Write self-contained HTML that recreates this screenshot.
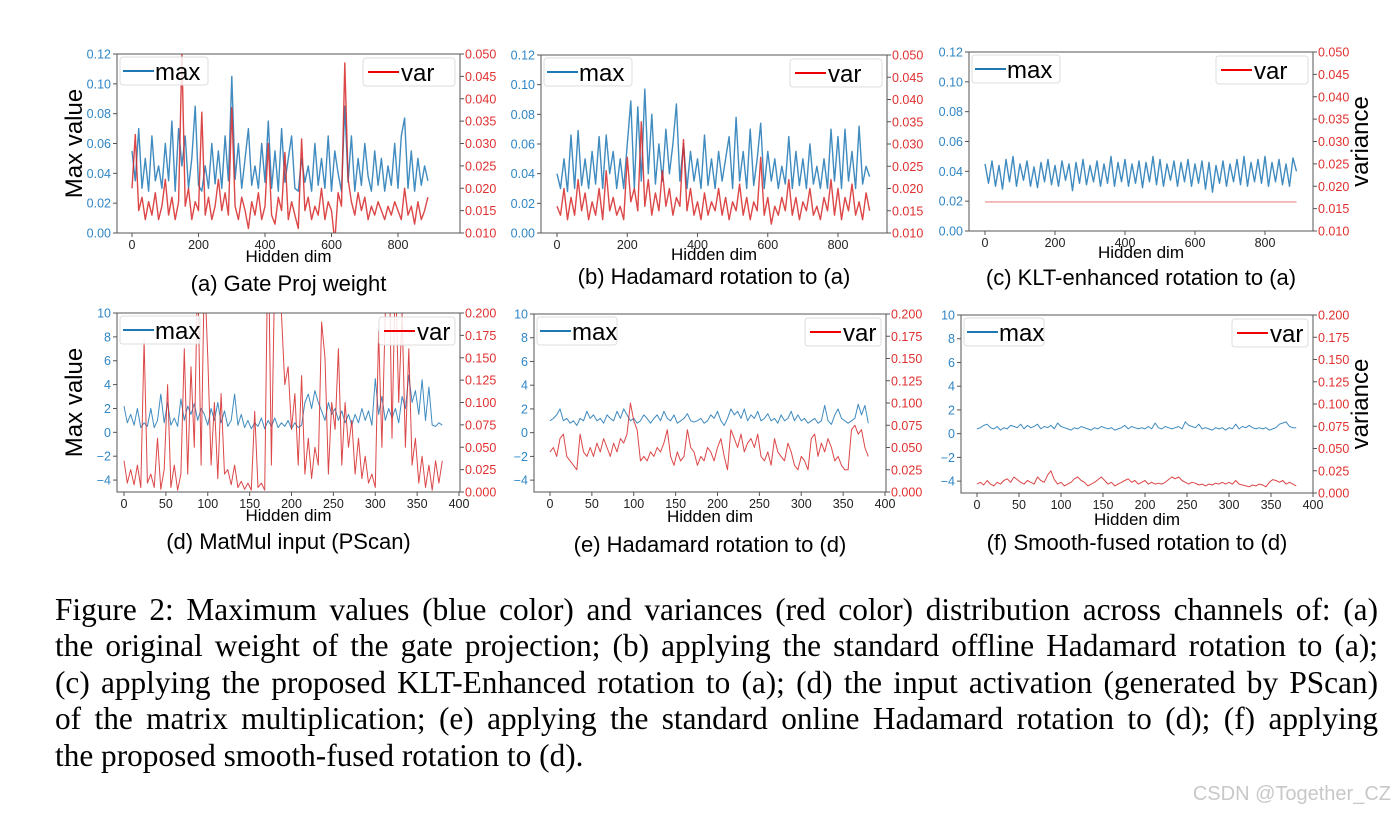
<!DOCTYPE html>
<html><head><meta charset="utf-8">
<style>
body{margin:0;background:#fff;width:1397px;height:818px;overflow:hidden;position:relative;font-family:"Liberation Sans",sans-serif}
svg{position:absolute;left:0;top:0}
.cap{position:absolute;left:55px;width:1323px;font-family:"Liberation Serif",serif;font-size:31.3px;line-height:36px;color:#000;white-space:nowrap}
.j{text-align:justify;text-align-last:justify;white-space:normal}
.wm{position:absolute;right:6px;top:783px;font-size:20px;color:#c8c8c8;font-family:"Liberation Sans",sans-serif}
</style></head><body>
<svg id="fig" width="1397" height="818"></svg>
<div class="cap j" style="top:592px">Figure 2: Maximum values (blue color) and variances (red color) distribution across channels of: (a)</div>
<div class="cap j" style="top:628px">the original weight of the gate projection; (b) applying the standard offline Hadamard rotation to (a);</div>
<div class="cap j" style="top:665px">(c) applying the proposed KLT-Enhanced rotation to (a); (d) the input activation (generated by PScan)</div>
<div class="cap j" style="top:701px">of the matrix multiplication; (e) applying the standard online Hadamard rotation to (d); (f) applying</div>
<div class="cap" style="top:738px">the proposed smooth-fused rotation to (d).</div>
<div class="wm">CSDN @Together_CZ</div>
<script>
const topXTicks=[0,200,400,600,800];
const botXTicks=[0,50,100,150,200,250,300,350,400];
const topLeftTicks=[0,0.02,0.04,0.06,0.08,0.10,0.12];
const topRightTicks=[0.010,0.015,0.020,0.025,0.030,0.035,0.040,0.045,0.050];
const botLeftTicks=[-4,-2,0,2,4,6,8,10];
const botRightTicks=[0,0.025,0.05,0.075,0.1,0.125,0.15,0.175,0.2];
const topStep=10, botStep=4;
const aMax=[0.055,0.035,0.07,0.03,0.05,0.028,0.065,0.035,0.045,0.03,0.06,0.035,0.075,0.028,0.07,0.045,0.065,0.03,0.05,0.085,0.032,0.028,0.045,0.03,0.06,0.033,0.055,0.03,0.065,0.035,0.105,0.036,0.06,0.03,0.05,0.07,0.032,0.045,0.03,0.06,0.034,0.075,0.03,0.055,0.028,0.07,0.034,0.05,0.065,0.03,0.028,0.05,0.034,0.045,0.028,0.06,0.032,0.05,0.03,0.065,0.028,0.055,0.04,0.028,0.085,0.034,0.065,0.028,0.05,0.032,0.06,0.038,0.028,0.055,0.032,0.05,0.028,0.045,0.032,0.06,0.03,0.065,0.077,0.03,0.055,0.028,0.05,0.032,0.045,0.035];
const aVar=[0.02,0.032,0.015,0.018,0.013,0.017,0.014,0.019,0.013,0.016,0.022,0.014,0.018,0.013,0.017,0.05,0.016,0.02,0.013,0.017,0.015,0.037,0.014,0.018,0.013,0.016,0.022,0.015,0.019,0.014,0.038,0.016,0.013,0.018,0.015,0.011,0.017,0.014,0.019,0.013,0.016,0.03,0.014,0.012,0.018,0.015,0.028,0.013,0.017,0.014,0.011,0.031,0.015,0.018,0.013,0.016,0.014,0.02,0.013,0.017,0.015,0.008,0.019,0.016,0.048,0.022,0.017,0.014,0.019,0.015,0.018,0.013,0.016,0.014,0.017,0.015,0.013,0.016,0.014,0.017,0.015,0.013,0.02,0.014,0.016,0.012,0.017,0.013,0.015,0.018];
const bMax=[0.04,0.03,0.05,0.028,0.066,0.03,0.069,0.032,0.05,0.03,0.055,0.033,0.065,0.03,0.066,0.04,0.055,0.03,0.05,0.03,0.06,0.089,0.03,0.085,0.035,0.097,0.04,0.08,0.033,0.06,0.035,0.07,0.04,0.06,0.087,0.035,0.06,0.03,0.055,0.035,0.05,0.03,0.066,0.032,0.05,0.03,0.055,0.035,0.05,0.065,0.03,0.078,0.035,0.055,0.03,0.07,0.032,0.05,0.074,0.03,0.055,0.035,0.05,0.03,0.045,0.033,0.065,0.03,0.055,0.032,0.05,0.03,0.06,0.033,0.045,0.03,0.05,0.03,0.07,0.035,0.065,0.03,0.07,0.035,0.055,0.03,0.072,0.033,0.045,0.038];
const bVar=[0.016,0.014,0.02,0.013,0.018,0.014,0.022,0.015,0.019,0.013,0.017,0.014,0.02,0.013,0.024,0.015,0.018,0.014,0.016,0.013,0.027,0.017,0.02,0.015,0.035,0.016,0.022,0.014,0.019,0.015,0.024,0.016,0.02,0.014,0.018,0.016,0.031,0.015,0.02,0.014,0.017,0.013,0.019,0.014,0.017,0.015,0.02,0.014,0.018,0.013,0.017,0.015,0.021,0.014,0.018,0.013,0.017,0.015,0.027,0.014,0.018,0.012,0.016,0.014,0.018,0.015,0.022,0.014,0.018,0.013,0.017,0.015,0.02,0.014,0.016,0.013,0.018,0.015,0.022,0.014,0.02,0.013,0.018,0.015,0.021,0.014,0.017,0.013,0.019,0.015];
const cMax=[0.045,0.032,0.047,0.03,0.044,0.028,0.048,0.033,0.05,0.03,0.045,0.034,0.047,0.03,0.043,0.029,0.046,0.033,0.048,0.031,0.044,0.03,0.047,0.034,0.045,0.027,0.046,0.032,0.048,0.031,0.044,0.033,0.047,0.03,0.045,0.032,0.05,0.03,0.046,0.033,0.048,0.03,0.045,0.032,0.047,0.029,0.046,0.033,0.05,0.031,0.048,0.03,0.045,0.034,0.047,0.03,0.046,0.033,0.048,0.03,0.045,0.032,0.047,0.028,0.046,0.026,0.044,0.032,0.047,0.03,0.045,0.033,0.048,0.031,0.05,0.03,0.046,0.033,0.048,0.032,0.05,0.03,0.046,0.033,0.048,0.031,0.045,0.03,0.049,0.04];
const cVar=[0.0165,0.0165,0.0165,0.0165,0.0165,0.0165,0.0165,0.0165,0.0165,0.0165,0.0165,0.0165,0.0165,0.0165,0.0165,0.0165,0.0165,0.0165,0.0165,0.0165,0.0165,0.0165,0.0165,0.0165,0.0165,0.0165,0.0165,0.0165,0.0165,0.0165,0.0165,0.0165,0.0165,0.0165,0.0165,0.0165,0.0165,0.0165,0.0165,0.0165,0.0165,0.0165,0.0165,0.0165,0.0165,0.0165,0.0165,0.0165,0.0165,0.0165,0.0165,0.0165,0.0165,0.0165,0.0165,0.0165,0.0165,0.0165,0.0165,0.0165,0.0165,0.0165,0.0165,0.0165,0.0165,0.0165,0.0165,0.0165,0.0165,0.0165,0.0165,0.0165,0.0165,0.0165,0.0165,0.0165,0.0165,0.0165,0.0165,0.0165,0.0165,0.0165,0.0165,0.0165,0.0165,0.0165,0.0165,0.0165,0.0165,0.0165];
const dMax=[2.2,0.8,1.5,0.6,2.0,0.4,0.8,0.5,2.0,0.4,1.0,3.2,0.8,2.5,0.6,1.2,0.5,2.8,1.0,2.2,1.5,2.4,1.0,2.0,1.5,0.6,2.0,1.0,2.5,0.8,1.8,0.5,1.0,3.2,0.6,1.5,0.4,1.0,0.3,0.8,0.5,1.2,0.3,1.0,0.5,1.2,0.4,0.8,0.5,1.0,0.3,0.8,0.4,0.6,2.5,3.2,2.0,3.5,2.5,1.8,1.0,2.5,1.5,2.0,1.0,1.8,0.8,1.5,0.6,1.5,0.8,2.0,1.0,1.8,0.6,4.5,1.5,3.0,1.0,2.0,1.2,2.0,0.8,3.0,2.0,4.8,2.5,3.5,1.5,4.4,1.0,3.8,0.6,0.5,0.8,0.6];
const dVar=[0.035,0.01,0.025,0.008,0.03,0.005,0.17,0.01,0.02,0.005,0.06,0.003,0.025,0.12,0.005,0.03,0.002,0.02,0.16,0.02,0.14,0.05,0.25,0.03,0.25,0.15,0.03,0.1,0.015,0.11,0.02,0.025,0.008,0.03,0.005,0.012,0.003,0.01,0.002,0.09,0.005,0.01,0.002,0.3,0.03,0.25,0.3,0.2,0.12,0.14,0.07,0.11,0.03,0.13,0.02,0.06,0.015,0.05,0.03,0.19,0.15,0.02,0.1,0.07,0.16,0.03,0.1,0.05,0.08,0.02,0.06,0.015,0.04,0.01,0.02,0.005,0.18,0.05,0.2,0.3,0.06,0.25,0.1,0.2,0.05,0.16,0.03,0.06,0.01,0.04,0.005,0.03,0.002,0.035,0.01,0.035];
const eMax=[1.0,1.2,1.5,2.0,1.0,1.2,0.8,1.0,0.6,1.2,1.0,1.8,1.2,1.5,1.0,1.2,0.8,1.5,1.2,1.0,1.8,1.2,2.0,1.5,1.0,1.2,0.8,1.0,1.5,1.2,0.8,1.2,1.5,1.0,1.8,1.2,1.0,1.5,0.8,1.0,1.2,1.6,1.0,0.9,1.0,1.2,0.8,1.0,1.5,1.2,1.8,1.0,0.6,1.2,2.0,1.5,1.8,1.2,2.0,1.0,1.5,1.2,1.8,1.0,1.2,1.6,1.0,1.2,0.8,1.5,1.0,1.2,1.8,1.0,1.5,1.0,1.2,0.8,1.0,1.2,0.8,1.0,2.3,1.0,0.7,1.5,2.0,1.2,1.0,0.8,1.0,1.2,2.4,1.5,2.3,0.8];
const eVar=[0.045,0.05,0.04,0.06,0.065,0.04,0.035,0.03,0.025,0.065,0.045,0.04,0.05,0.04,0.055,0.045,0.06,0.05,0.04,0.055,0.045,0.06,0.055,0.065,0.1,0.08,0.07,0.035,0.04,0.035,0.045,0.04,0.05,0.045,0.055,0.07,0.04,0.03,0.045,0.035,0.04,0.07,0.05,0.045,0.03,0.04,0.035,0.05,0.045,0.035,0.05,0.06,0.04,0.025,0.07,0.06,0.05,0.065,0.045,0.055,0.06,0.05,0.065,0.04,0.035,0.045,0.03,0.06,0.045,0.04,0.035,0.055,0.045,0.03,0.025,0.04,0.035,0.025,0.06,0.065,0.04,0.055,0.045,0.06,0.05,0.035,0.04,0.03,0.025,0.025,0.07,0.075,0.065,0.07,0.05,0.04];
const fMax=[0.4,0.5,0.7,0.8,0.5,0.4,0.6,0.3,0.5,0.4,0.7,0.6,0.5,0.8,0.4,0.7,0.5,0.6,0.8,0.4,0.6,0.5,0.7,0.4,0.9,0.6,0.5,0.4,0.3,0.5,0.4,0.6,0.5,0.4,0.3,0.5,0.4,0.6,0.5,0.4,0.5,0.3,0.4,0.5,0.7,0.4,0.6,0.5,0.4,0.5,0.4,0.6,0.4,0.9,0.5,0.4,0.6,0.5,0.4,0.5,0.6,0.4,1.0,0.7,0.6,0.5,0.8,0.4,0.5,0.4,0.3,0.5,0.4,0.5,0.3,0.5,0.4,0.8,0.4,0.6,0.5,0.7,0.5,0.4,0.5,0.4,0.5,0.3,0.4,0.5,0.8,0.9,1.0,0.6,0.5,0.5];
const fVar=[0.01,0.012,0.009,0.014,0.01,0.008,0.012,0.01,0.014,0.016,0.012,0.018,0.015,0.012,0.01,0.014,0.012,0.01,0.018,0.014,0.012,0.02,0.025,0.015,0.01,0.012,0.008,0.01,0.012,0.016,0.018,0.014,0.012,0.008,0.01,0.012,0.015,0.018,0.014,0.01,0.012,0.008,0.01,0.012,0.014,0.016,0.012,0.014,0.01,0.012,0.014,0.01,0.012,0.01,0.011,0.01,0.012,0.015,0.018,0.016,0.018,0.014,0.012,0.01,0.012,0.011,0.009,0.01,0.008,0.01,0.009,0.011,0.01,0.012,0.01,0.012,0.01,0.014,0.01,0.009,0.008,0.007,0.009,0.008,0.01,0.009,0.007,0.012,0.015,0.014,0.012,0.014,0.01,0.012,0.01,0.008];

const NS='http://www.w3.org/2000/svg';
const svgEl=document.getElementById('fig');
const BLUE='#1f77b4', RED='#d62728', BT='#2f86c6', RT='#e0302f';
function mk(tag,attrs,parent){const e=document.createElementNS(NS,tag);for(const k in attrs)e.setAttribute(k,attrs[k]);(parent||svgEl).appendChild(e);return e;}

function panel(p){
  const g=mk('g',{});
  
  
  const X=v=>p.x0+(v/p.xRef)*(p.xRefPx-p.x0);
  const YL=v=>p.b-(v-p.l0)/(p.l1-p.l0)*(p.b-p.t);
  const YR=v=>p.b-(v-p.r0)/(p.r1-p.r0)*(p.b-p.t);
  const cid='clip-'+p.id;
  const cp=mk('clipPath',{id:cid},g);
  mk('rect',{x:p.L,y:p.t,width:p.R-p.L,height:p.b-p.t},cp);
  function line(arr,Y,col,op,step,name,w){
    let d='';arr.forEach((v,i)=>{d+=(i?'L':'M')+X(i*step).toFixed(1)+','+Y(v).toFixed(1);});
    const pth=mk('path',{d:d,fill:'none',stroke:col,'stroke-width':w,'stroke-opacity':op,'stroke-linejoin':'round','clip-path':'url(#'+cid+')'},g);
    
    
  }
  line(p.mx,YL,BLUE,0.85,p.step,'max-line-'+p.id,p.sw);
  line(p.vr,YR,RED,p.flat?0.45:0.85,p.step,'var-line-'+p.id,p.sw);
  const fr=mk('rect',{x:p.L,y:p.t,width:p.R-p.L,height:p.b-p.t,fill:'none',stroke:'#555','stroke-width':1},g);
  
  
  p.lt.forEach(v=>{const y=YL(v);mk('line',{x1:p.L-4,x2:p.L,y1:y,y2:y,stroke:'#555'},g);
    const t=mk('text',{x:p.L-6,y:y+4.5,'text-anchor':'end','font-size':12.5,fill:BT},g);t.textContent=p.lf(v);
    });
  p.rt.forEach(v=>{const y=YR(v);mk('line',{x1:p.R,x2:p.R+4,y1:y,y2:y,stroke:'#555'},g);
    const t=mk('text',{x:p.R+5,y:y+4.5,'font-size':12.5,fill:RT},g);t.textContent=v.toFixed(3);
    });
  p.xt.forEach(v=>{const x=X(v);mk('line',{x1:x,x2:x,y1:p.b,y2:p.b+4,stroke:'#555'},g);
    const t=mk('text',{x:x,y:p.b+16,'text-anchor':'middle','font-size':12.5,fill:'#222'},g);t.textContent=v;
    });
  const xl=mk('text',{x:(p.L+p.R)/2,y:p.b+p.xlOff,'text-anchor':'middle','font-size':17,fill:'#000'},g);xl.textContent='Hidden dim';
  
  const cap=mk('text',{x:(p.L+p.R)/2,y:p.b+p.capOff,'text-anchor':'middle','font-size':22,fill:'#000'},g);cap.textContent=p.cap;
  
  const lg=mk('g',{},g);
  mk('rect',{x:p.L+3,y:p.t+3,width:p.lw,height:28,rx:3,fill:'#fff','fill-opacity':0.85,stroke:'#ddd'},lg);
  mk('line',{x1:p.L+6,x2:p.L+37,y1:p.t+17,y2:p.t+17,stroke:BLUE,'stroke-width':2},lg);
  const lt=mk('text',{x:p.L+38,y:p.t+26,'font-size':24,fill:'#000'},lg);lt.textContent='max';
  const rg=mk('g',{},g);
  mk('rect',{x:p.R-5-p.rw,y:p.t+4,width:p.rw,height:28,rx:3,fill:'#fff','fill-opacity':0.85,stroke:'#ddd'},rg);
  mk('line',{x1:p.R-p.rw,x2:p.R-p.rw+31,y1:p.t+18,y2:p.t+18,stroke:'#e00','stroke-width':2},rg);
  const rtx=mk('text',{x:p.R-p.rw+33,y:p.t+27,'font-size':24,fill:'#000'},rg);rtx.textContent='var';
  if(p.yl){const t=mk('text',{transform:'translate(82,'+((p.t+p.b)/2)+') rotate(-90)','text-anchor':'middle','font-size':24,fill:'#000'},g);t.textContent='Max value';
    }
  if(p.vl){const t=mk('text',{transform:'translate(1368,'+((p.t+p.b)/2)+') rotate(-90)','text-anchor':'middle','font-size':24,fill:'#000'},g);t.textContent='variance';
    }
}
const f2=v=>v.toFixed(2), f0=v=>(v<0?'\u2212'+(-v):''+v);
const topCfg={l0:0,l1:0.12,r0:0.01,r1:0.05,lt:topLeftTicks,rt:topRightTicks,xt:topXTicks,xRef:800,step:topStep,lf:f2,lw:88,rw:92,sw:1.4};
const botCfg={l0:-5,l1:10,r0:0,r1:0.2,lt:botLeftTicks,rt:botRightTicks,xt:botXTicks,xRef:400,step:botStep,lf:f0,lw:80,rw:76,sw:1};
panel(Object.assign({},topCfg,{id:'a',L:117,R:460,t:54,b:233,x0:132,xRefPx:398,mx:aMax,vr:aVar,cap:'(a) Gate Proj weight',xlOff:29,capOff:58,yl:true}));
panel(Object.assign({},topCfg,{id:'b',L:541,R:887,t:55,b:233,x0:557,xRefPx:838,mx:bMax,vr:bVar,cap:'(b) Hadamard rotation to (a)',xlOff:27,capOff:51}));
panel(Object.assign({},topCfg,{id:'c',L:969,R:1313,t:52,b:231,x0:985,xRefPx:1265,mx:cMax,vr:cVar,flat:true,cap:'(c) KLT-enhanced rotation to (a)',xlOff:27,capOff:54,vl:true}));
panel(Object.assign({},botCfg,{id:'d',L:117,R:460,t:313,b:492,x0:124,xRefPx:459,mx:dMax,vr:dVar,cap:'(d) MatMul input (PScan)',xlOff:29,capOff:57,yl:true}));
panel(Object.assign({},botCfg,{id:'e',L:534,R:886,t:314,b:492,x0:550,xRefPx:885,mx:eMax,vr:eVar,cap:'(e) Hadamard rotation to (d)',xlOff:30,capOff:60}));
panel(Object.assign({},botCfg,{id:'f',L:961,R:1313,t:315,b:493,x0:977,xRefPx:1313,mx:fMax,vr:fVar,cap:'(f) Smooth-fused rotation to (d)',xlOff:32,capOff:57,vl:true}));
</script>
</body></html>
